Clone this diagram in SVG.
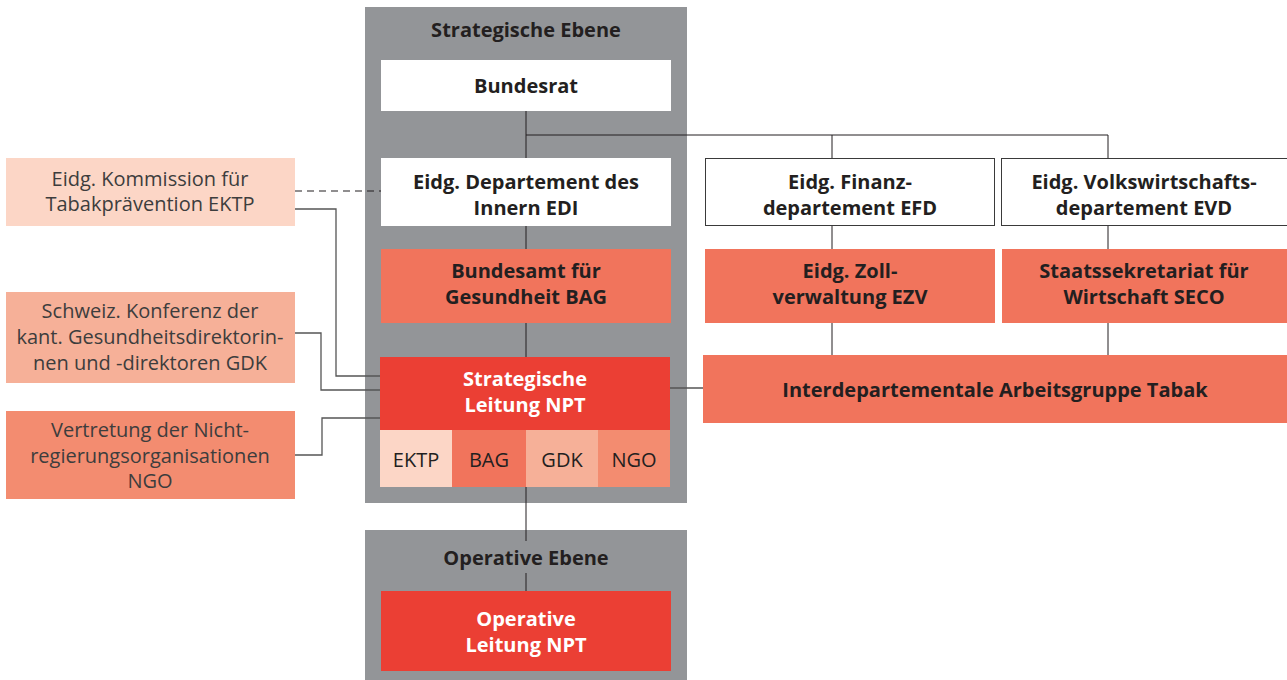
<svg xmlns="http://www.w3.org/2000/svg" width="1287" height="680" viewBox="0 0 1287 680">
<style>
.panel{fill:#939598}
.w{fill:#ffffff}
.wb{fill:#ffffff;stroke:#3a3a3a;stroke-width:1}
.c1{fill:#fcd6c6}
.c2{fill:#f6b098}
.c3{fill:#f38c70}
.c4{fill:#f1745c}
.c5{fill:#eb3f34}
text{font-family:"Open Sans","Liberation Sans",Arial,sans-serif;font-size:20px;text-anchor:middle;fill:#231f20}
.b{font-weight:bold}
.wt{fill:#ffffff}
.g{fill:#3d3d3d}
.ln{fill:none;stroke:#231f20;stroke-width:1}
.lg{fill:none;stroke:#555555;stroke-width:1.3}
.dash{fill:none;stroke:#231f20;stroke-width:1.2;stroke-dasharray:7,5}
</style>
<g id="panel-strategisch"><rect class="panel" x="365" y="7" width="322" height="496"/><text class="b" x="526" y="37">Strategische Ebene</text></g>
<g id="panel-operativ"><rect class="panel" x="365" y="530" width="322" height="150"/><text class="b" x="526" y="565">Operative Ebene</text></g>
<g id="connectors">
<path class="ln" d="M526 111V158M526 135H1108V158M832 135V158M526 226V249M526 323V357M526 487V541M526 573V591"/>
<path class="ln" d="M832 226V249M832 323V355M1108 226V249M1108 323V355"/>
<path class="lg" d="M670 388H703"/>
<path class="dash" d="M295 191H381"/>
<path class="lg" d="M295 209H336V376H380"/>
<path class="lg" d="M295 333H321V390H380"/>
<path class="lg" d="M295 455H322V418H380"/>
</g>
<g id="bundesrat"><rect class="w" x="381" y="60" width="290" height="51"/><text class="b" x="526" y="93">Bundesrat</text></g>
<g id="edi"><rect class="w" x="381" y="158" width="290" height="68"/><text class="b" x="526" y="189">Eidg. Departement des</text><text class="b" x="526" y="215">Innern EDI</text></g>
<g id="bag"><rect class="c4" x="381" y="249" width="290" height="74"/><text class="b" x="526" y="278">Bundesamt für</text><text class="b" x="526" y="304">Gesundheit BAG</text></g>
<g id="sl-npt"><rect class="c5" x="380" y="357" width="290" height="73"/><text class="b wt" x="525" y="386">Strategische</text><text class="b wt" x="525" y="412">Leitung NPT</text>
<rect class="c1" x="380" y="430" width="72" height="57"/><text x="416" y="467">EKTP</text>
<rect class="c4" x="452" y="430" width="74" height="57"/><text x="489" y="467">BAG</text>
<rect class="c2" x="526" y="430" width="72" height="57"/><text x="562" y="467">GDK</text>
<rect class="c3" x="598" y="430" width="72" height="57"/><text x="634" y="467">NGO</text></g>
<g id="op-npt"><rect class="c5" x="381" y="591" width="290" height="80"/><text class="b wt" x="526" y="626">Operative</text><text class="b wt" x="526" y="652">Leitung NPT</text></g>
<g id="efd"><rect class="wb" x="705.5" y="158.5" width="289" height="67"/><text class="b" x="850" y="189">Eidg. Finanz-</text><text class="b" x="850" y="215">departement EFD</text></g>
<g id="evd"><rect class="wb" x="1001.5" y="158.5" width="290" height="67"/><text class="b" x="1144" y="189">Eidg. Volkswirtschafts-</text><text class="b" x="1144" y="215">departement EVD</text></g>
<g id="ezv"><rect class="c4" x="705" y="249" width="290" height="74"/><text class="b" x="850" y="278">Eidg. Zoll-</text><text class="b" x="850" y="304">verwaltung EZV</text></g>
<g id="seco"><rect class="c4" x="1002" y="249" width="285" height="74"/><text class="b" x="1144" y="278">Staatssekretariat für</text><text class="b" x="1144" y="304">Wirtschaft SECO</text></g>
<g id="iag"><rect class="c4" x="703" y="355" width="584" height="68"/><text class="b" x="995" y="397">Interdepartementale Arbeitsgruppe Tabak</text></g>
<g id="ektp"><rect class="c1" x="6" y="158" width="289" height="68"/><text class="g" x="150" y="186">Eidg. Kommission für</text><text class="g" x="150" y="211">Tabakprävention EKTP</text></g>
<g id="gdk"><rect class="c2" x="6" y="292" width="289" height="91"/><text class="g" x="150" y="318">Schweiz. Konferenz der</text><text class="g" x="150" y="344">kant. Gesundheitsdirektorin-</text><text class="g" x="150" y="370">nen und -direktoren GDK</text></g>
<g id="ngo"><rect class="c3" x="6" y="411" width="289" height="88"/><text class="g" x="150" y="437">Vertretung der Nicht-</text><text class="g" x="150" y="463">regierungsorganisationen</text><text class="g" x="150" y="488">NGO</text></g>
</svg>
